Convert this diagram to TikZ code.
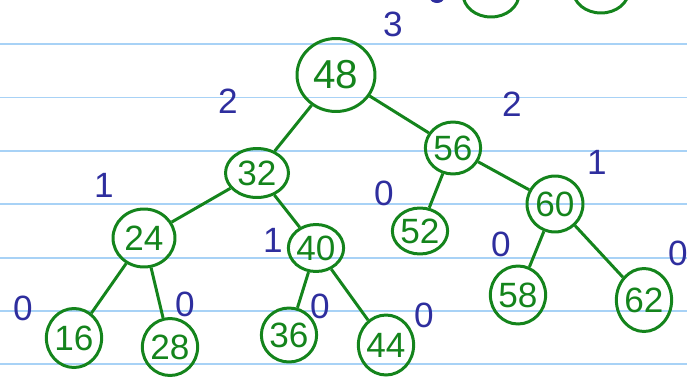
\documentclass[tikz,border=0pt]{standalone}
\usepackage{fontspec}
\setmainfont{Liberation Sans}
\usetikzlibrary{shapes.geometric}
\definecolor{ink}{HTML}{14841C}
\definecolor{pen}{HTML}{2E2E9E}
\definecolor{rule}{HTML}{A8D2F6}

\begin{document}
\begin{tikzpicture}[x=0.02cm, y=-0.02cm,
  key/.style={ellipse, draw=ink, line width=1.7pt, text=ink, inner sep=0pt,
              font=\fontsize{20}{20}\selectfont},
  sz/.style 2 args={minimum width=#1cm, minimum height=#2cm},
  ht/.style={text=pen, font=\fontsize{20}{20}\selectfont},
  edge/.style={draw=ink, line width=1.7pt}
]
\useasboundingbox (0,0) rectangle (687,379);

% ruled paper
\foreach \y in {44,97.5,151,204,258,311,364}
  \draw[rule, line width=1.1pt] (0,\y) -- (687,\y);

% bits of the tree above, cut off by the page edge
\begin{scope}
  \clip (0,0) rectangle (687,379);
  \node[key, sz={1.12}{0.92}] (top1) at (491,-6) {};
  \node[key, sz={1.12}{0.92}] (top2) at (601,-10) {};
  \fill[pen] (437,-2) ellipse (7 and 5);
\end{scope}

% keys
\node[key, sz={1.56}{1.46}, font=\fontsize{23}{23}\selectfont] (n48) at (336,75) {48};
\node[key, sz={1.26}{0.98}] (n32) at (257,173) {32};
\node[key, sz={1.1}{1.04}]  (n56) at (453,148) {56};
\node[key, sz={1.24}{1.16}] (n24) at (144,238) {24};
\node[key, sz={0.92}{0.94}] (n40) at (316,248) {40};
\node[key, sz={0.92}{0.92}] (n52) at (420,231) {52};
\node[key, sz={1.12}{1.12}] (n60) at (555,204) {60};
\node[key, sz={1.08}{1.18}] (n16) at (74,338) {16};
\node[key, sz={1.02}{1.14}] (n28) at (170,347) {28};
\node[key, sz={0.96}{1.08}] (n36) at (289,335) {36};
\node[key, sz={0.9}{1.2}]   (n44) at (386,345) {44};
\node[key, sz={0.98}{1.16}] (n58) at (518,295) {58};
\node[key, sz={1.06}{1.26}] (n62) at (644,300) {62};

% links
\draw[edge] (n48) -- (n32);
\draw[edge] (n48) -- (n56);
\draw[edge] (n32) -- (n24);
\draw[edge] (n32) -- (n40);
\draw[edge] (n24) -- (n16);
\draw[edge] (n24) -- (n28);
\draw[edge] (n40) -- (n36);
\draw[edge] (n40) -- (n44);
\draw[edge] (n56) -- (n52);
\draw[edge] (n56) -- (n60);
\draw[edge] (n60) -- (n58);
\draw[edge] (n60) -- (n62);

% heights
\node[ht] (h48) at (393,24)  {3};
\node[ht] (h32) at (228,101) {2};
\node[ht] (h56) at (512,104) {2};
\node[ht] (h24) at (104,185) {1};
\node[ht] (h40) at (273,240) {1};
\node[ht] (h60) at (597,162) {1};
\node[ht] (h52) at (384,193) {0};
\node[ht] (h16) at (23,308)  {0};
\node[ht] (h28) at (185,304) {0};
\node[ht] (h36) at (320,306) {0};
\node[ht] (h44) at (424,315) {0};
\node[ht] (h58) at (501,244) {0};
\node[ht] (h62) at (678,253) {0};
\end{tikzpicture}
\end{document}
